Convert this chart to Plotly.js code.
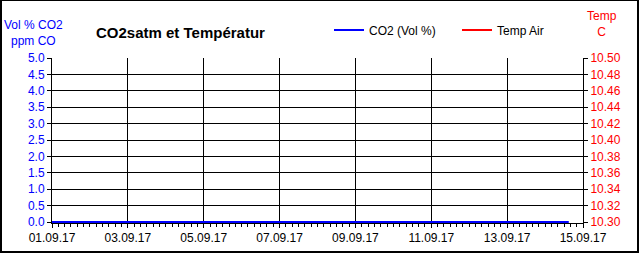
<!DOCTYPE html>
<html><head><meta charset="utf-8">
<script src="https://cdn.plot.ly/plotly-3.0.1.min.js"></script>
<style>
html,body{margin:0;padding:0;background:#fff;}
#wrap{position:relative;width:639px;height:254px;}
#chart{position:absolute;left:0;top:0;width:639px;height:254px;}
#frame{position:absolute;left:0;top:-1px;width:635px;height:250px;border:2px solid #000;pointer-events:none;}
</style></head>
<body><div id="wrap"><div id="chart"></div><div id="frame"></div></div>
<script>
const times = ["2017-09-01 00:00","2017-09-02 00:00","2017-09-03 00:00","2017-09-04 00:00","2017-09-05 00:00","2017-09-06 00:00","2017-09-07 00:00","2017-09-08 00:00","2017-09-09 00:00","2017-09-10 00:00","2017-09-11 00:00","2017-09-12 00:00","2017-09-13 00:00","2017-09-14 00:00","2017-09-14 15:00"];
const co2 = [0,0,0,0,0,0,0,0,0,0,0,0,0,0,0];
const tempAir = [null,null,null,null,null,null,null,null,null,null,null,null,null,null,null];
const co2Name = "CO2 (Vol %)";
const tempName = "Temp Air";
const chartTitle = "CO2satm et Températur";
const leftTitle = "Vol % CO2<br>ppm CO";
const rightTitle = "Temp<br>C";

const font = "Liberation Sans, Arial, sans-serif";
const traces = [
  {x: times, y: co2, name: co2Name, type: "scatter", mode: "lines", line: {color: "#0000ff", width: 2}, yaxis: "y"},
  {x: times, y: tempAir, name: tempName, type: "scatter", mode: "lines", line: {color: "#ff0000", width: 2}, yaxis: "y2"}
];
const layout = {
  width: 639, height: 254,
  margin: {l: 52, r: 56, t: 58, b: 31, pad: 0, autoexpand: false},
  paper_bgcolor: "#fff", plot_bgcolor: "#fff",
  font: {family: font, size: 12, color: "#000"},
  showlegend: true,
  legend: {orientation: "h", xref: "container", yref: "container", x: 329/639, y: 1 - 30/254, xanchor: "left", yanchor: "middle", font: {family: font, size: 12, color: "#000"}, bgcolor: "rgba(0,0,0,0)", entrywidth: 83, entrywidthmode: "pixels", itemwidth: 30, tracegroupgap: 0},
  xaxis: {
    type: "date", range: ["2017-09-01", "2017-09-15"], dtick: 2*86400000, tick0: "2017-09-01",
    tickformat: "%d.%m.%y", ticks: "outside", ticklen: 4, tickcolor: "#000", tickwidth: 1,
    showgrid: true, gridcolor: "#000", gridwidth: 1, showline: true, linecolor: "#000", linewidth: 1,
    zeroline: false, layer: "below traces", tickfont: {family: font, size: 12, color: "#000"},
    minor: {dtick: 4*3600000, ticks: "outside", ticklen: 3, tickcolor: "#000", showgrid: false}
  },
  yaxis: {
    range: [-0.03, 5], dtick: 0.5, tick0: 0, tickformat: ".1f", ticks: "outside", ticklen: 4, tickcolor: "#000",
    showgrid: true, gridcolor: "#000", gridwidth: 1, showline: true, linecolor: "#000", zeroline: false,
    layer: "below traces", tickfont: {family: font, size: 12, color: "#0000ff"}
  },
  yaxis2: {
    overlaying: "y", side: "right", range: [10.30 - 0.0012, 10.50], dtick: 0.02, tick0: 10.30, tickformat: ".2f",
    ticks: "outside", ticklen: 4, tickcolor: "#000", showgrid: false, showline: true, linecolor: "#000",
    zeroline: false, tickfont: {family: font, size: 12, color: "#ff0000"}
  },
  annotations: [
    {text: "<b>" + chartTitle + "</b>", xref: "paper", yref: "paper", x: (180 - 52)/531, y: 1, xanchor: "center", yanchor: "middle", yshift: 26, showarrow: false, font: {family: font, size: 15, color: "#000"}},
    {text: leftTitle, xref: "paper", yref: "paper", x: 0, y: 1, xanchor: "center", yanchor: "middle", xshift: -19, yshift: 25, showarrow: false, font: {family: font, size: 12, color: "#0000ff"}, align: "center"},
    {text: rightTitle, xref: "paper", yref: "paper", x: 1, y: 1, xanchor: "center", yanchor: "middle", xshift: 19, yshift: 34, showarrow: false, font: {family: font, size: 12, color: "#ff0000"}, align: "center"}
  ]
};
Plotly.newPlot("chart", traces, layout, {staticPlot: true, displayModeBar: false});
</script></body></html>
